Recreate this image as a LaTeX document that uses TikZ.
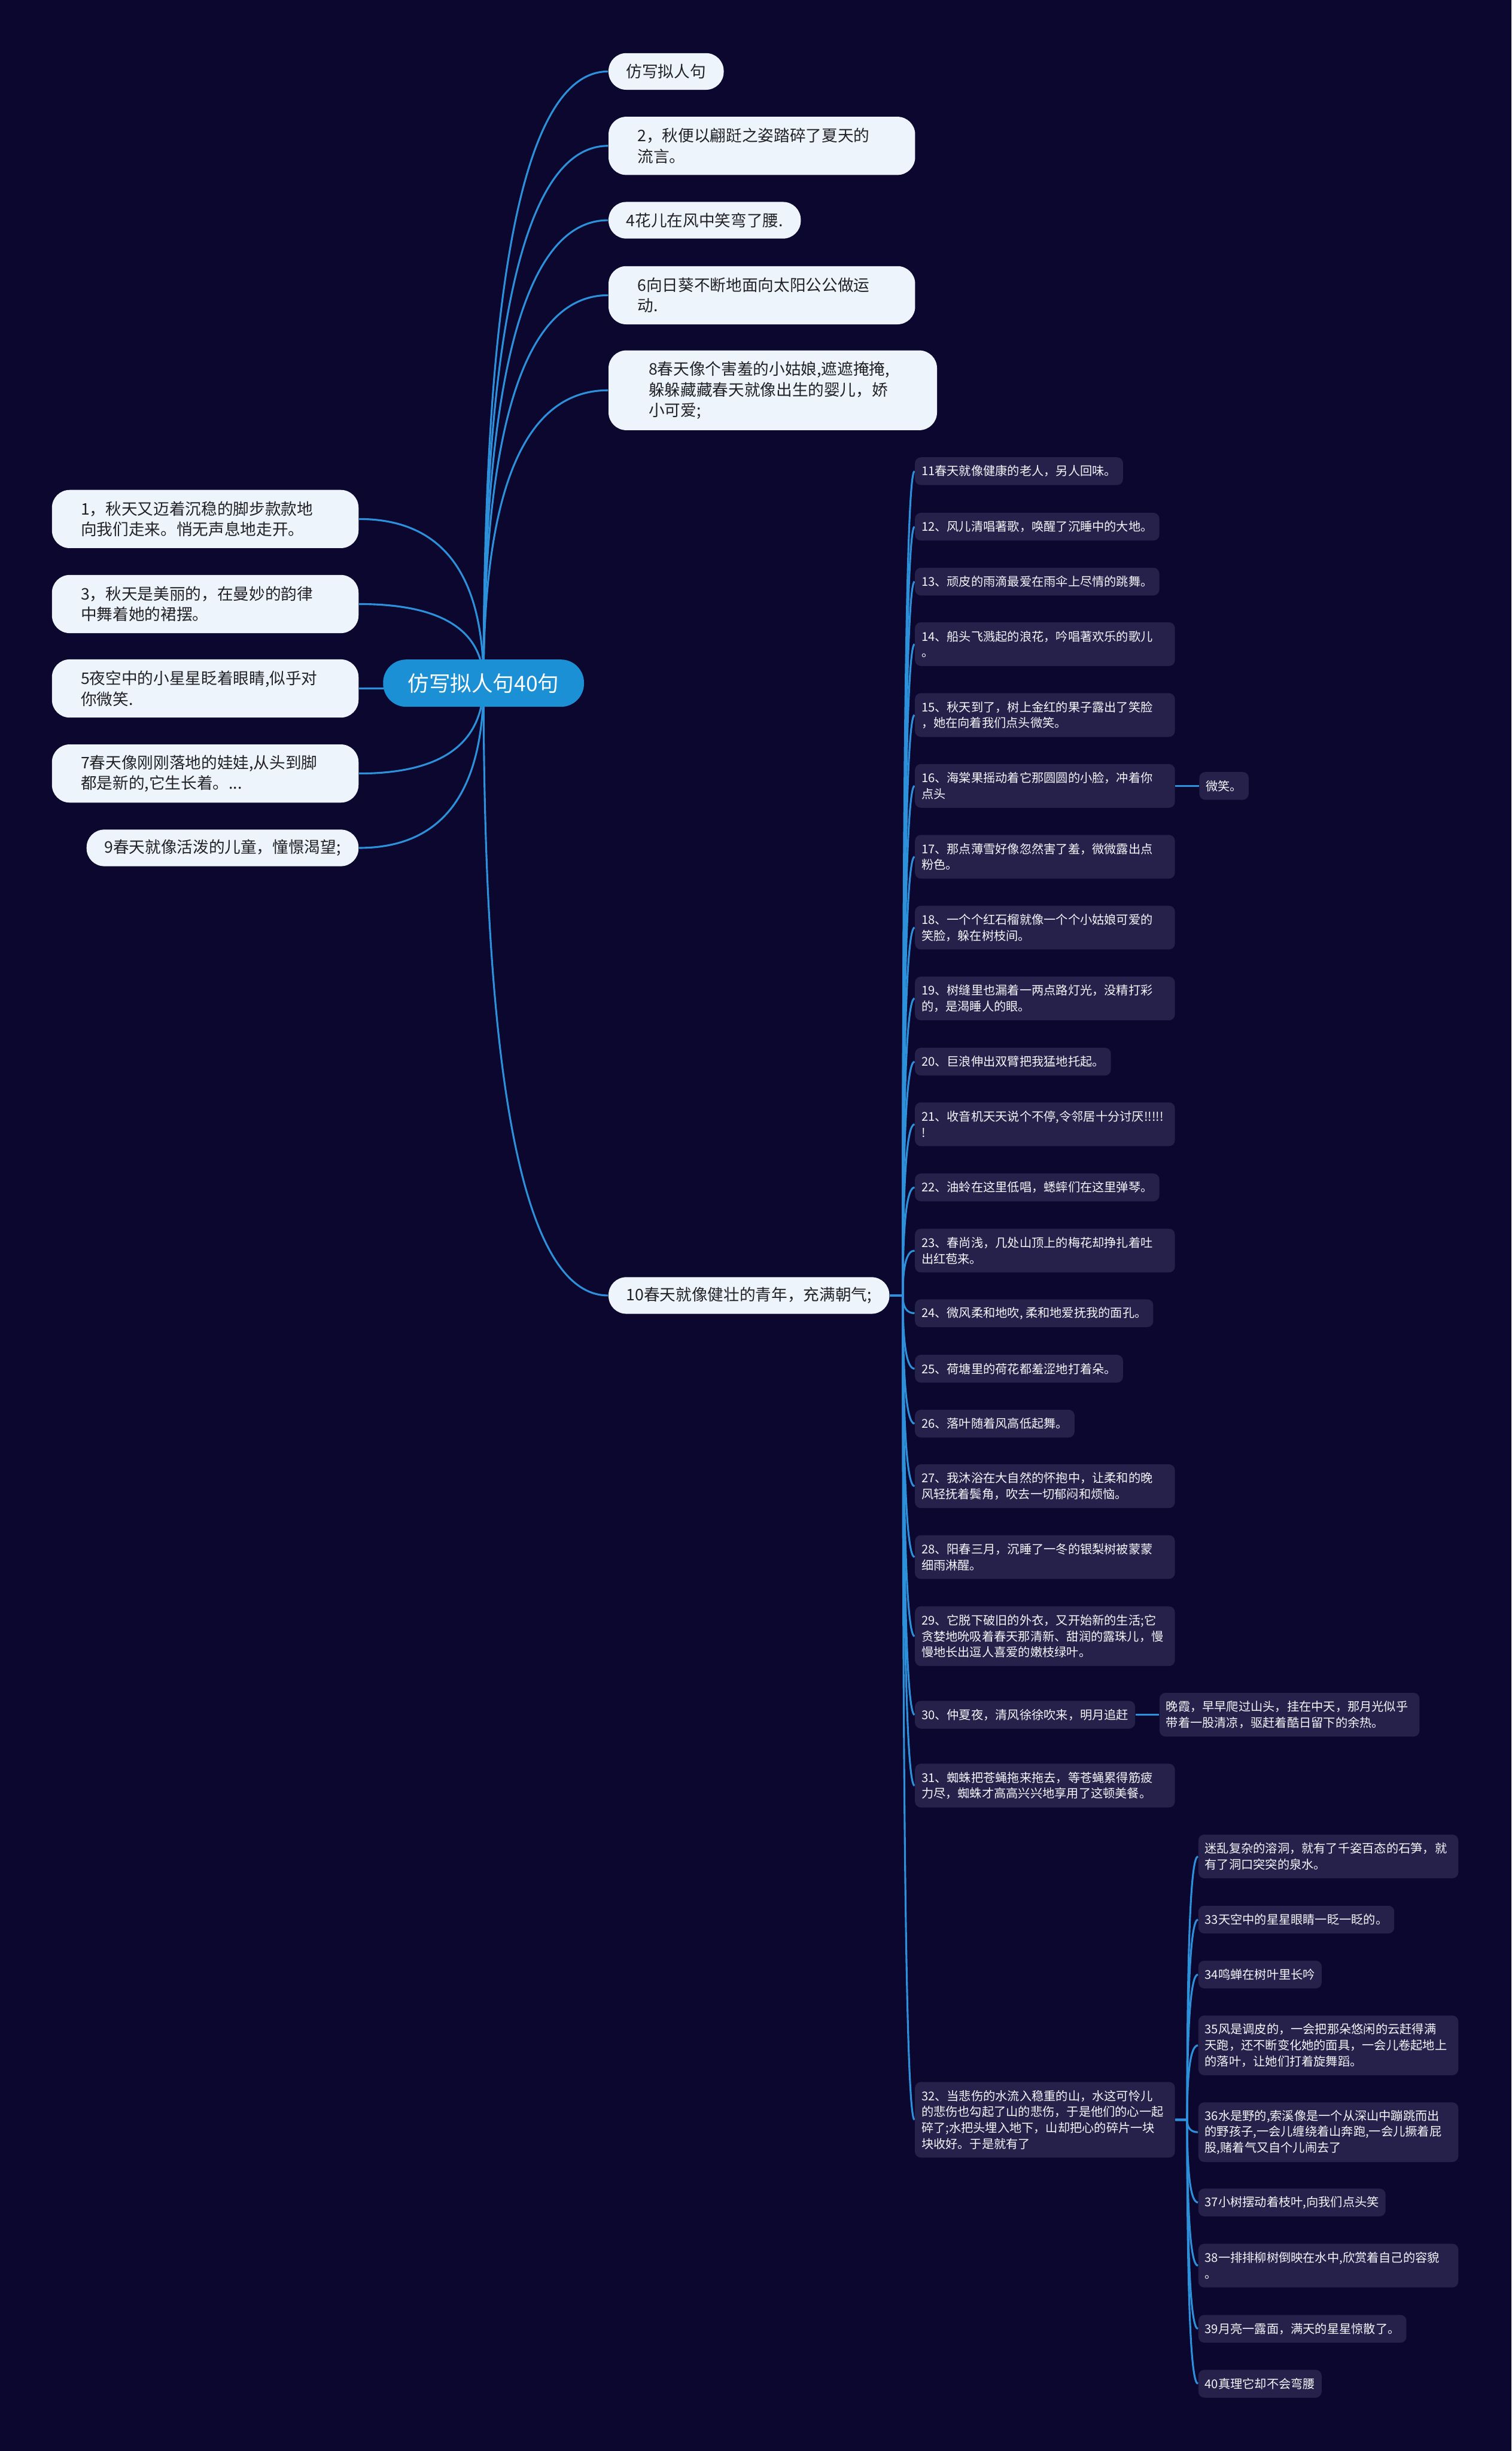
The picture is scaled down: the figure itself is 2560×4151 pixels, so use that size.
\documentclass[tikz,border=0pt]{standalone}
\usepackage{fontspec}
\newfontfamily\cjk{Noto Sans CJK SC}
\usetikzlibrary{positioning,calc,backgrounds}
\definecolor{night}{RGB}{11,7,46}
\definecolor{plum}{RGB}{37,33,74}
\definecolor{pale}{RGB}{238,244,252}
\definecolor{sky}{RGB}{27,144,212}
\definecolor{wire}{RGB}{44,145,218}
\definecolor{ink}{RGB}{34,34,38}
\definecolor{snow}{RGB}{245,245,250}
\tikzset{
  hub/.style={fill=sky,text=white,rounded corners=0.39cm,minimum width=3.4cm,
    minimum height=0.8cm,font=\cjk\fontsize{10.24}{12}\selectfont},
  topic/.style={fill=pale,text=ink,rounded corners=0.3cm,inner xsep=0.3cm,inner ysep=0.08cm,
    minimum height=#1*0.365cm+0.255cm,align=left,font=\cjk\fontsize{7.68}{9.96}\selectfont},
  topic/.default=1,
  wide topic/.style={topic=#1,inner xsep=0.49cm,text width=4.21cm},
  wide topic/.default=2,
  twig/.style={fill=plum,text=snow,rounded corners=0.1cm,inner xsep=0.11cm,inner ysep=0.06cm,
    minimum height=#1*0.27cm+0.2cm,align=left,font=\cjk\fontsize{5.83}{7.68}\selectfont},
  twig/.default=1,
  wide twig/.style={twig=#1,text width=4.18cm},
  wide twig/.default=2,
  link/.style={draw=wire,line width=0.9pt},
  bough/.style={to path={.. controls ($(\tikztostart)!0.667!(\tikztostart |- \tikztotarget)$)
    and ($(\tikztotarget)!0.667!(\tikztostart |- \tikztotarget)$) .. (\tikztotarget)}},
}
\begin{document}
\begin{tikzpicture}[x=0.01cm,y=-0.01cm]
  \useasboundingbox (0,0) rectangle (2560,4151);
  \node[hub] (root) at (819,1157) {仿写拟人句40句};
  % upper right
  \node[topic,anchor=west] (r0) at (1030,121) {仿写拟人句};
  \node[wide topic,anchor=west] (r2) at (1030,247) {2，秋便以翩跹之姿踏碎了夏天的\\流言。};
  \node[topic,anchor=west] (r4) at (1030,373) {4花儿在风中笑弯了腰.};
  \node[wide topic,anchor=west] (r6) at (1030,500) {6向日葵不断地面向太阳公公做运\\动.};
  \node[wide topic=3,anchor=west,inner xsep=0.68cm,text width=4.2cm] (r8) at (1030,661) {8春天像个害羞的小姑娘,遮遮掩掩,\\躲躲藏藏春天就像出生的婴儿，娇\\小可爱;};
  \node[topic,anchor=west] (r10) at (1030,2194) {10春天就像健壮的青年，充满朝气;};
  % left
  \node[wide topic,anchor=east] (l1) at (608,879) {1，秋天又迈着沉稳的脚步款款地\\向我们走来。悄无声息地走开。};
  \node[wide topic,anchor=east] (l3) at (608,1023) {3，秋天是美丽的，在曼妙的韵律\\中舞着她的裙摆。};
  \node[wide topic,anchor=east] (l5) at (608,1166) {5夜空中的小星星眨着眼睛,似乎对\\你微笑.};
  \node[wide topic,anchor=east] (l7) at (608,1310) {7春天像刚刚落地的娃娃,从头到脚\\都是新的,它生长着。...};
  \node[topic,anchor=east] (l9) at (608,1436) {9春天就像活泼的儿童，憧憬渴望;};
  % under 10
  \node[twig,anchor=west] (s11) at (1549,798) {11春天就像健康的老人，另人回味。};
  \node[twig,anchor=west] (s12) at (1549,892) {12、风儿清唱著歌，唤醒了沉睡中的大地。};
  \node[twig,anchor=west] (s13) at (1549,985) {13、顽皮的雨滴最爱在雨伞上尽情的跳舞。};
  \node[wide twig,anchor=west] (s14) at (1549,1091) {14、船头飞溅起的浪花，吟唱著欢乐的歌儿\\。};
  \node[wide twig,anchor=west] (s15) at (1549,1211) {15、秋天到了，树上金红的果子露出了笑脸\\，她在向着我们点头微笑。};
  \node[wide twig,anchor=west] (s16) at (1549,1331) {16、海棠果摇动着它那圆圆的小脸，冲着你\\点头};
  \node[twig,right=0.4cm of s16] (s16a) {微笑。};
  \node[wide twig,anchor=west] (s17) at (1549,1451) {17、那点薄雪好像忽然害了羞，微微露出点\\粉色。};
  \node[wide twig,anchor=west] (s18) at (1549,1571) {18、一个个红石榴就像一个个小姑娘可爱的\\笑脸，躲在树枝间。};
  \node[wide twig,anchor=west] (s19) at (1549,1691) {19、树缝里也漏着一两点路灯光，没精打彩\\的，是渴睡人的眼。};
  \node[twig,anchor=west] (s20) at (1549,1798) {20、巨浪伸出双臂把我猛地托起。};
  \node[wide twig,anchor=west] (s21) at (1549,1904) {21、收音机天天说个不停,令邻居十分讨厌!!!!!\\!};
  \node[twig,anchor=west] (s22) at (1549,2011) {22、油蛉在这里低唱，蟋蟀们在这里弹琴。};
  \node[wide twig,anchor=west] (s23) at (1549,2118) {23、春尚浅，几处山顶上的梅花却挣扎着吐\\出红苞来。};
  \node[twig,anchor=west] (s24) at (1549,2224) {24、微风柔和地吹, 柔和地爱抚我的面孔。};
  \node[twig,anchor=west] (s25) at (1549,2318) {25、荷塘里的荷花都羞涩地打着朵。};
  \node[twig,anchor=west] (s26) at (1549,2411) {26、落叶随着风高低起舞。};
  \node[wide twig,anchor=west] (s27) at (1549,2517) {27、我沐浴在大自然的怀抱中，让柔和的晚\\风轻抚着鬓角，吹去一切郁闷和烦恼。};
  \node[wide twig,anchor=west] (s28) at (1549,2637) {28、阳春三月，沉睡了一冬的银梨树被蒙蒙\\细雨淋醒。};
  \node[wide twig=3,anchor=west] (s29) at (1549,2771) {29、它脱下破旧的外衣，又开始新的生活;它\\贪婪地吮吸着春天那清新、甜润的露珠儿，慢\\慢地长出逗人喜爱的嫩枝绿叶。};
  \node[twig,anchor=west] (s30) at (1549,2904) {30、仲夏夜，清风徐徐吹来，明月追赶};
  \node[wide twig,right=0.4cm of s30] (s30a) {晚霞，早早爬过山头，挂在中天，那月光似乎\\带着一股清凉，驱赶着酷日留下的余热。};
  \node[wide twig,anchor=west] (s31) at (1549,3024) {31、蜘蛛把苍蝇拖来拖去，等苍蝇累得筋疲\\力尽，蜘蛛才高高兴兴地享用了这顿美餐。};
  \node[wide twig=4,anchor=west] (s32) at (1549,3590) {32、当悲伤的水流入稳重的山，水这可怜儿\\的悲伤也勾起了山的悲伤，于是他们的心一起\\碎了;水把头埋入地下，山却把心的碎片一块\\块收好。于是就有了};
  % under 32
  \node[wide twig,anchor=west] (s32a) at (2029,3144) {迷乱复杂的溶洞，就有了千姿百态的石笋，就\\有了洞口突突的泉水。};
  \node[twig,anchor=west] (s33) at (2029,3251) {33天空中的星星眼睛一眨一眨的。};
  \node[twig,anchor=west] (s34) at (2029,3344) {34鸣蝉在树叶里长吟};
  \node[wide twig=3,anchor=west] (s35) at (2029,3464) {35风是调皮的，一会把那朵悠闲的云赶得满\\天跑，还不断变化她的面具，一会儿卷起地上\\的落叶，让她们打着旋舞蹈。};
  \node[wide twig=3,anchor=west] (s36) at (2029,3611) {36水是野的,索溪像是一个从深山中蹦跳而出\\的野孩子,一会儿缠绕着山奔跑,一会儿撅着屁\\股,赌着气又自个儿闹去了};
  \node[twig,anchor=west] (s37) at (2029,3730) {37小树摆动着枝叶,向我们点头笑};
  \node[wide twig,anchor=west] (s38) at (2029,3837) {38一排排柳树倒映在水中,欣赏着自己的容貌\\。};
  \node[twig,anchor=west] (s39) at (2029,3944) {39月亮一露面，满天的星星惊散了。};
  \node[twig,anchor=west] (s40) at (2029,4037) {40真理它却不会弯腰};
  \coordinate (j10) at ([xshift=0.22cm]r10.east);
  \coordinate (j32) at ([xshift=0.2cm]s32.east);
  \begin{scope}[on background layer]
    \fill[night] (0,0) rectangle (2560,4151);
    \foreach \kid in {r0,r2,r4,r6,r8,r10}
      \draw[link] (root.center) to[bough] (\kid.west);
    \foreach \kid in {l1,l3,l5,l7,l9}
      \draw[link] (root.center) to[bough] (\kid.east);
    \foreach \kid in {s11,s12,s13,s14,s15,s16,s17,s18,s19,s20,s21,s22,s23,s24,s25,s26,s27,s28,s29,s30,s31,s32}
      \draw[link] (r10.east) -- (j10) to[bough] (\kid.west);
    \draw[link] (s16.east) -- (s16a.west);
    \draw[link] (s30.east) -- (s30a.west);
    \foreach \kid in {s32a,s33,s34,s35,s36,s37,s38,s39,s40}
      \draw[link] (s32.east) -- (j32) to[bough] (\kid.west);
  \end{scope}
\end{tikzpicture}
\end{document}
